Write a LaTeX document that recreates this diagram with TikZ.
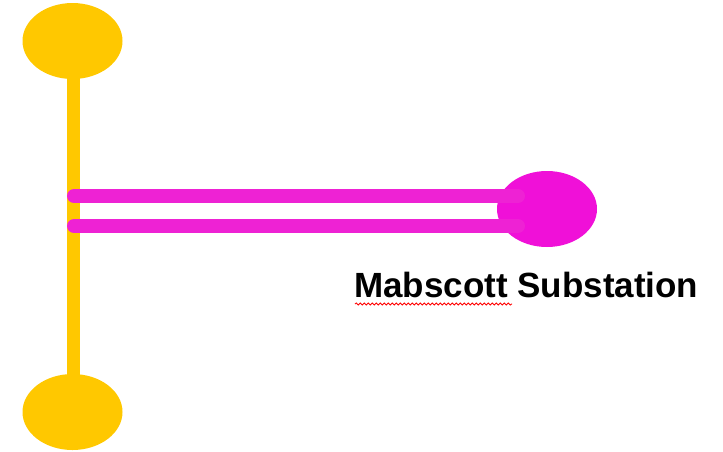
\documentclass[tikz,border=0pt]{standalone}
\usepackage{fontspec}
\setmainfont{Liberation Sans}
\usetikzlibrary{decorations.pathmorphing,shapes.geometric}
\definecolor{busyellow}{HTML}{FFC800}
\definecolor{linemag}{HTML}{EE22D4}
\definecolor{subsmag}{HTML}{F010D8}
\tikzset{
  yellowbus/.style={ellipse, fill=busyellow, minimum width=100pt, minimum height=76pt, inner sep=0pt},
  magsub/.style={ellipse, fill=subsmag, minimum width=100pt, minimum height=76pt, inner sep=0pt},
  feeder/.style={draw=busyellow, line width=13pt},
  tieline/.style={draw=linemag, line width=14pt, line cap=round},
  lbl/.style={font=\bfseries\fontsize{35}{40}\selectfont, inner sep=0pt, anchor=base west},
  squig/.style={draw=red, line width=0.8pt, decorate, decoration={snake, amplitude=1.1pt, segment length=4pt}}
}
\begin{document}
\begin{tikzpicture}[x=1pt,y=-1pt]
\useasboundingbox (0,0) rectangle (723,451);
\coordinate (vtop) at (73,41);
\coordinate (vbot) at (73,412);
\draw[feeder] (vtop) -- (vbot);
\node[yellowbus] (bustop) at (72.5,41) {};
\node[yellowbus] (busbot) at (72.5,412) {};
\node[magsub] (mab) at (547,209) {};
\coordinate (l1a) at (74,196);
\coordinate (l1b) at (518,196);
\coordinate (l2a) at (74,226);
\coordinate (l2b) at (518,226);
\draw[tieline] (l1a) -- (l1b);
\draw[tieline] (l2a) -- (l2b);
\node[lbl] (mablbl) at (354,297) {Mabscott Substation};
\coordinate (sqa) at (355,304);
\coordinate (sqb) at (512,304);
\draw[squig] (sqa) -- (sqb);
\end{tikzpicture}
\end{document}
